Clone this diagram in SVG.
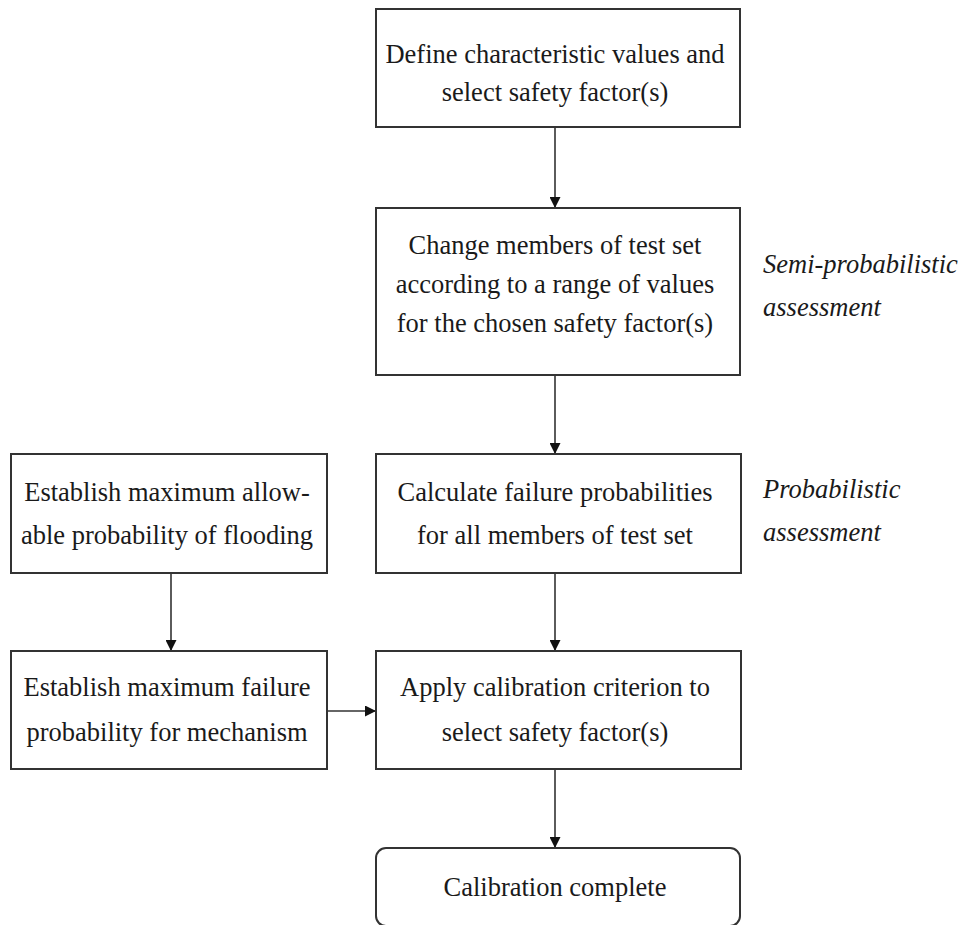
<svg xmlns="http://www.w3.org/2000/svg" width="965" height="925" viewBox="0 0 965 925">
  <style>
    .box { fill: #ffffff; stroke: #333333; stroke-width: 2; }
    .t { font-family: "Liberation Serif", "Times New Roman", serif; font-size: 26.5px; fill: #1a1a1a; text-anchor: middle; }
    .side { font-family: "Liberation Serif", "Times New Roman", serif; font-size: 26.5px; font-style: italic; fill: #1a1a1a; }
    .edge { stroke: #333333; stroke-width: 1.6; fill: none; marker-end: url(#arrow); }
  </style>
  <defs>
    <marker id="arrow" viewBox="0 0 10 10" refX="10" refY="5" markerWidth="11" markerHeight="11" markerUnits="userSpaceOnUse" orient="auto">
      <path d="M0,0 L10,5 L0,10 Z" fill="#111111"/>
    </marker>
  </defs>
  <rect width="965" height="925" fill="#ffffff"/>

  <!-- flow connectors -->
  <g id="connectors">
    <line class="edge" x1="555" y1="127" x2="555" y2="208"/>
    <line class="edge" x1="555" y1="375" x2="555" y2="454"/>
    <line class="edge" x1="555" y1="573" x2="555" y2="651"/>
    <line class="edge" x1="171" y1="573" x2="171" y2="651"/>
    <line class="edge" x1="327" y1="711" x2="376" y2="711"/>
    <line class="edge" x1="555" y1="769" x2="555" y2="848"/>
  </g>

  <g id="define">
    <rect class="box" x="376" y="9" width="364" height="118"/>
    <text class="t" x="555" y="63">Define characteristic values and</text>
    <text class="t" x="555" y="101">select safety factor(s)</text>
  </g>

  <g id="change">
    <rect class="box" x="376" y="208" width="364" height="167"/>
    <text class="t" x="555" y="254">Change members of test set</text>
    <text class="t" x="555" y="293">according to a range of values</text>
    <text class="t" x="555" y="332">for the chosen safety factor(s)</text>
  </g>

  <g id="calculate">
    <rect class="box" x="376" y="454" width="365" height="119"/>
    <text class="t" x="555" y="501">Calculate failure probabilities</text>
    <text class="t" x="555" y="544">for all members of test set</text>
  </g>

  <g id="allowable">
    <rect class="box" x="11" y="454" width="316" height="119"/>
    <text class="t" x="167" y="501">Establish maximum allow-</text>
    <text class="t" x="167" y="544">able probability of flooding</text>
  </g>

  <g id="mechanism">
    <rect class="box" x="11" y="651" width="316" height="118"/>
    <text class="t" x="167" y="696">Establish maximum failure</text>
    <text class="t" x="167" y="741">probability for mechanism</text>
  </g>

  <g id="apply">
    <rect class="box" x="376" y="651" width="365" height="118"/>
    <text class="t" x="555" y="696">Apply calibration criterion to</text>
    <text class="t" x="555" y="741">select safety factor(s)</text>
  </g>

  <g id="complete">
    <rect class="box" x="376" y="848" width="364" height="78" rx="10" ry="10"/>
    <text class="t" x="555" y="896">Calibration complete</text>
  </g>

  <g id="labels">
    <text class="side" x="763" y="273">Semi-probabilistic</text>
    <text class="side" x="763" y="316">assessment</text>
    <text class="side" x="763" y="498">Probabilistic</text>
    <text class="side" x="763" y="541">assessment</text>
  </g>
</svg>
